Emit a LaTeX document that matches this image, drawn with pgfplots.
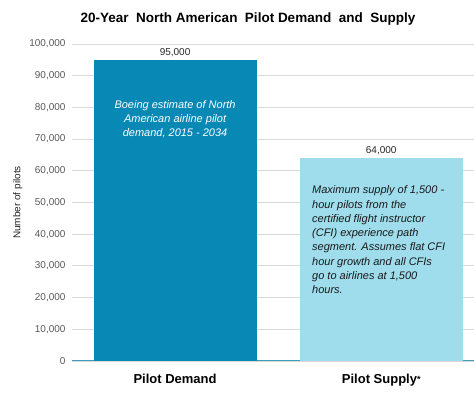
\documentclass[border=0pt]{standalone}
\usepackage{pgfplots}
\pgfplotsset{compat=1.18}
\usepackage{fontspec}
\setmainfont{Liberation Sans}
\definecolor{demand}{HTML}{0888B4}
\definecolor{supply}{HTML}{9FDDEC}
\definecolor{baseline}{HTML}{3C9DB8}
\definecolor{gridc}{HTML}{D9D9D9}
\definecolor{tickc}{HTML}{595959}
\begin{document}
\begin{tikzpicture}[x=1pt,y=1pt]
\useasboundingbox (0,0) rectangle (474,393);
\begin{axis}[
  at={(72pt,32pt)}, anchor=south west,
  scale only axis, width=402pt, height=317pt,
  xmin=-0.5, xmax=1.45, ymin=0, ymax=100000,
  ybar, bar width=163pt,
  xtick={0,1}, xticklabels={Pilot Demand, {Pilot Supply{\fontsize{9}{9}\selectfont\raisebox{1.5pt}{*}}}},
  ytick={0,10000,20000,30000,40000,50000,60000,70000,80000,90000,100000},
  yticklabels={0,{10,000},{20,000},{30,000},{40,000},{50,000},{60,000},{70,000},{80,000},{90,000},{100,000}},
  scaled y ticks=false,
  axis x line*=bottom, axis y line*=left,
  y axis line style={draw=none},
  x axis line style={-, draw=baseline, line width=1pt},
  major tick length=0pt,
  ymajorgrids, grid style={gridc, line width=0.8pt},
  yticklabel style={font=\fontsize{10}{12}\selectfont, text=tickc, xshift=-3pt},
  xticklabel style={font=\bfseries\fontsize{13}{15}\selectfont, text=black, yshift=-10pt},
  ylabel={Number of pilots},
  ylabel style={font=\fontsize{10}{12}\selectfont, text=black!85},
  point meta=explicit symbolic,
  nodes near coords,
  nodes near coords style={font=\fontsize{10}{12}\selectfont, text=black!85},
  clip=false,
]
\addplot[fill=demand, draw=none, bar shift=0pt] coordinates {(0,95000) [{95,000}]};
\addplot[fill=supply, draw=none, bar shift=0pt] coordinates {(1,64000) [{64,000}]};
\node[align=center, font=\itshape\fontsize{11}{14}\selectfont, text=white] at (axis cs:0,76300)
  {Boeing estimate of North\\American airline pilot\\demand, 2015 - 2034};
\node[align=left, anchor=west, font=\itshape\fontsize{11}{14.3}\selectfont, text=black!90, inner sep=0pt] at (axis cs:0.664,38200)
  {Maximum supply of 1,500 -\\hour pilots from the\\certified flight instructor\\(CFI) experience path\\segment. Assumes flat CFI\\hour growth and all CFIs\\go to airlines at 1,500\\hours.};
\end{axis}
\node[font=\bfseries\fontsize{13.5}{16}\selectfont] at (248,374) {20-Year\ \ North American\ \ Pilot Demand\ \ and\ \ Supply};
\end{tikzpicture}
\end{document}
